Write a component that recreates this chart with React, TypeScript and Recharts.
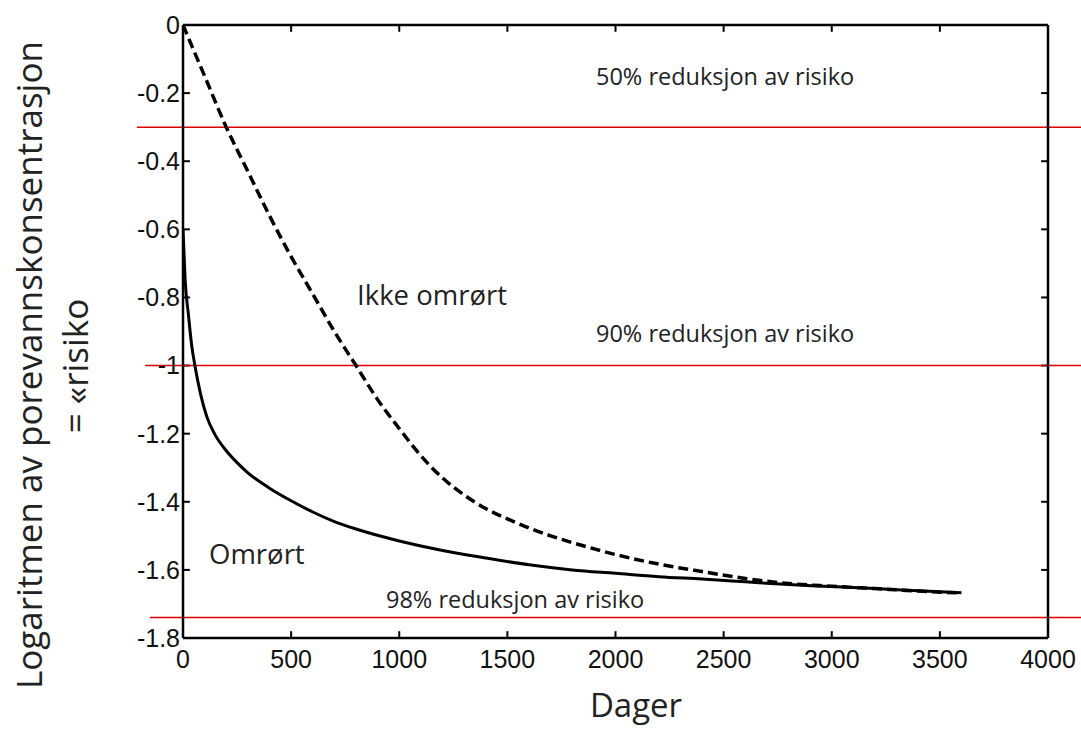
import { LineChart, Line, XAxis, YAxis, ReferenceLine } from 'recharts';

// Omrørt (solid) – days and log concentration
const omrortDays = [0, 10, 25, 40, 55, 80, 110, 150, 200, 250, 300, 400, 500, 600, 700, 800, 1000, 1200, 1400, 1600, 1800, 2000, 2200, 2400, 2600, 2800, 3000, 3200, 3400, 3600];
const omrortValues = [-0.6, -0.75, -0.85, -0.94, -1.0, -1.08, -1.15, -1.205, -1.25, -1.285, -1.315, -1.36, -1.397, -1.43, -1.458, -1.48, -1.515, -1.543, -1.565, -1.585, -1.6, -1.61, -1.62, -1.627, -1.635, -1.643, -1.649, -1.655, -1.661, -1.667];

// Ikke omrørt (dashed)
const ikkeDays = [0, 100, 200, 300, 400, 500, 600, 700, 800, 900, 1000, 1100, 1200, 1300, 1400, 1500, 1600, 1700, 1800, 1900, 2000, 2200, 2400, 2600, 2800, 3000, 3200, 3400, 3600];
const ikkeValues = [0, -0.15, -0.3, -0.43, -0.56, -0.68, -0.79, -0.9, -1.0, -1.1, -1.185, -1.265, -1.33, -1.38, -1.42, -1.45, -1.477, -1.5, -1.52, -1.538, -1.555, -1.583, -1.605, -1.625, -1.64, -1.648, -1.655, -1.662, -1.668];

const xTicks = [0, 500, 1000, 1500, 2000, 2500, 3000, 3500, 4000];
const yTicks = [0, -0.2, -0.4, -0.6, -0.8, -1.0, -1.2, -1.4, -1.6, -1.8];

// risk reduction thresholds
const riskLevels = [-0.3, -1.0, -1.74];
const riskLabels = ['50% reduksjon av risiko', '90% reduksjon av risiko', '98% reduksjon av risiko'];

const omrort = omrortDays.map((x, i) => ({ x, y: omrortValues[i] }));
const ikke = ikkeDays.map((x, i) => ({ x, y: ikkeValues[i] }));

const tickFont = 'Liberation Sans, Arial, sans-serif';
const textFont = 'Open Sans, Noto Sans, sans-serif';
const axisLine = { stroke: '#000', strokeWidth: 2.5 };
const lineStarts = [-213, -175, -153];
// inward tick length in data units (~7px)
const TX = 32;
const TY = 0.02;

const fmtY = (v: number) => String(Math.round(v * 10) / 10);

const BottomTick = (p: any) => (
  <text x={p.x} y={p.y} dy="0.71em" textAnchor="middle" fontFamily={tickFont} fontSize={25} fill="#111">
    {p.payload.value}
  </text>
);
const LeftTick = (p: any) => (
  <text x={p.x} y={p.y} dy="0.355em" textAnchor="end" fontFamily={tickFont} fontSize={25} fill="#111">
    {fmtY(p.payload.value)}
  </text>
);

const tickStyle = { stroke: '#000', strokeWidth: 2, ifOverflow: 'visible' as const, xAxisId: 'x', yAxisId: 'y' };

export default function App() {
  return (
    <div style={{ position: 'absolute', left: 0, top: 0, background: '#fff' }}>
      <LineChart width={1081} height={729} margin={{ top: 24, right: 32, bottom: 0, left: 0 }}>
        <XAxis
          xAxisId="x"
          type="number"
          dataKey="x"
          domain={[0, 4000]}
          ticks={xTicks}
          interval={0}
          height={91}
          tickSize={0}
          tickMargin={12}
          axisLine={axisLine}
          tickLine={false}
          tick={BottomTick}
          allowDataOverflow
        />
        <XAxis
          xAxisId="top"
          orientation="top"
          type="number"
          domain={[0, 4000]}
          height={1}
          axisLine={axisLine}
          tickLine={false}
          tick={false}
        />
        <YAxis
          yAxisId="y"
          type="number"
          domain={[-1.8, 0]}
          ticks={yTicks}
          interval={0}
          width={183}
          tickSize={0}
          tickMargin={3}
          axisLine={axisLine}
          tickLine={false}
          tick={LeftTick}
          allowDataOverflow
        />
        <YAxis
          yAxisId="right"
          orientation="right"
          type="number"
          domain={[-1.8, 0]}
          width={1}
          axisLine={axisLine}
          tickLine={false}
          tick={false}
        />
        {/* inward tick marks on all four sides */}
        {xTicks.slice(1, -1).map((t) => (
          <ReferenceLine key={`b${t}`} {...tickStyle} segment={[{ x: t, y: -1.8 }, { x: t, y: -1.8 + TY }]} />
        ))}
        {xTicks.slice(1, -1).map((t) => (
          <ReferenceLine key={`t${t}`} {...tickStyle} segment={[{ x: t, y: 0 }, { x: t, y: -TY }]} />
        ))}
        {yTicks.slice(1, -1).map((t) => (
          <ReferenceLine key={`l${t}`} {...tickStyle} segment={[{ x: 0, y: t }, { x: TX, y: t }]} />
        ))}
        {yTicks.slice(1, -1).map((t) => (
          <ReferenceLine key={`r${t}`} {...tickStyle} segment={[{ x: 4000, y: t }, { x: 4000 - TX, y: t }]} />
        ))}
        {riskLevels.map((lvl, i) => (
          <ReferenceLine
            key={lvl}
            xAxisId="x"
            yAxisId="y"
            segment={[{ x: lineStarts[i], y: lvl }, { x: 4160, y: lvl }]}
            stroke="#dd0000"
            strokeWidth={1.5}
            ifOverflow="visible"
          />
        ))}
        <Line
          xAxisId="x"
          yAxisId="y"
          data={ikke}
          dataKey="y"
          type="monotone"
          stroke="#000"
          strokeWidth={3.5}
          strokeDasharray="10 5"
          dot={false}
          isAnimationActive={false}
        />
        <Line
          xAxisId="x"
          yAxisId="y"
          data={omrort}
          dataKey="y"
          type="monotone"
          stroke="#000"
          strokeWidth={3}
          dot={false}
          isAnimationActive={false}
        />
        <g fontFamily={textFont} fill="#222">
          <text x={596} y={85} fontSize={23.5}>{riskLabels[0]}</text>
          <text x={596} y={342} fontSize={23.5}>{riskLabels[1]}</text>
          <text x={386} y={608} fontSize={23.5}>{riskLabels[2]}</text>
          <text x={357} y={305} fontSize={27.5}>Ikke omrørt</text>
          <text x={209} y={564} fontSize={27.5}>Omrørt</text>
          <text x={636} y={717} fontSize={33} textAnchor="middle">Dager</text>
          <text x={42} y={365} fontSize={35} textAnchor="middle" transform="rotate(-90 42 365)">
            Logaritmen av porevannskonsentrasjon
          </text>
          <text x={88} y={366} fontSize={35} textAnchor="middle" transform="rotate(-90 88 366)">
            = «risiko
          </text>
        </g>
      </LineChart>
    </div>
  );
}
